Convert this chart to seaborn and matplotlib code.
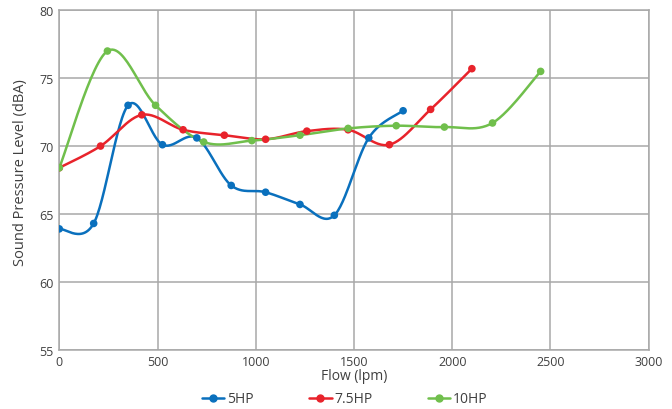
import numpy as np
import pandas as pd
import matplotlib
matplotlib.use('Agg')
import matplotlib.pyplot as plt
import seaborn as sns
from matplotlib.lines import Line2D

# data
flow_5hp = [0, 175, 350, 525, 700, 875, 1050, 1225, 1400, 1575, 1750]
spl_5hp = [63.9, 64.3, 73.0, 70.1, 70.6, 67.1, 66.6, 65.7, 64.9, 70.6, 72.6]

flow_75hp = [0, 210, 420, 630, 840, 1050, 1260, 1470, 1680, 1890, 2100]
spl_75hp = [68.4, 70.0, 72.3, 71.2, 70.8, 70.5, 71.1, 71.2, 70.1, 72.7, 75.7]

flow_10hp = [0, 245, 490, 735, 980, 1225, 1470, 1715, 1960, 2205, 2450]
spl_10hp = [68.4, 77.0, 73.0, 70.3, 70.4, 70.8, 71.3, 71.5, 71.4, 71.7, 75.5]

series = ['5HP', '7.5HP', '10HP']
colors = {'5HP': '#0a70bd', '7.5HP': '#e8232b', '10HP': '#70bf4c'}


def smooth(xs, ys, n=30):
    # excel-like smoothed line (catmull-rom bezier)
    p = np.column_stack([xs, ys]).astype(float)
    p = np.vstack([p[0], p, p[-1]])
    out = []
    t = np.linspace(0, 1, n)[:, None]
    for i in range(1, len(p) - 2):
        p0, p1, p2, p3 = p[i - 1], p[i], p[i + 1], p[i + 2]
        c1 = p1 + (p2 - p0) / 6
        c2 = p2 - (p3 - p1) / 6
        seg = ((1 - t) ** 3) * p1 + 3 * ((1 - t) ** 2) * t * c1 + 3 * (1 - t) * t ** 2 * c2 + t ** 3 * p2
        out.append(seg if i == 1 else seg[1:])
    out = np.vstack(out)
    return out[:, 0], out[:, 1]


pts = pd.concat([
    pd.DataFrame({'Flow': flow_5hp, 'SPL': spl_5hp, 'Motor': '5HP'}),
    pd.DataFrame({'Flow': flow_75hp, 'SPL': spl_75hp, 'Motor': '7.5HP'}),
    pd.DataFrame({'Flow': flow_10hp, 'SPL': spl_10hp, 'Motor': '10HP'}),
])

curves = []
for name in series:
    d = pts[pts['Motor'] == name]
    sx, sy = smooth(d['Flow'].values, d['SPL'].values)
    curves.append(pd.DataFrame({'Flow': sx, 'SPL': sy, 'Motor': name}))
curves = pd.concat(curves)

sns.set_style('white')
plt.rcParams['font.family'] = ['Open Sans', 'DejaVu Sans']

fig = plt.figure(figsize=(6.72, 4.10), dpi=100)
ax = fig.add_axes([59.3 / 672, 1 - 350.7 / 410, (648.7 - 59.3) / 672, (350.7 - 11.3) / 410])

sns.lineplot(data=curves, x='Flow', y='SPL', hue='Motor', palette=colors, sort=False,
             estimator=None, units='Motor', linewidth=1.8, legend=False, ax=ax, zorder=3)
sns.scatterplot(data=pts, x='Flow', y='SPL', hue='Motor', palette=colors, s=30,
                edgecolor='none', legend=False, ax=ax, zorder=4)

ax.set_xlim(0, 3000)
ax.set_ylim(55, 80)
ax.set_xticks(range(0, 3001, 500))
ax.set_yticks(range(55, 81, 5))
ax.grid(True, color='#a8a8a8', linewidth=1.1)
ax.set_axisbelow(True)
for s in ax.spines.values():
    s.set_color('#a8a8a8')
    s.set_linewidth(1.1)
ax.tick_params(axis='both', length=0, labelsize=9, labelcolor='#404040', pad=4)
ax.set_xlabel('Flow (lpm)', fontsize=10, color='#404040', labelpad=0)
ax.set_ylabel('Sound Pressure Level (dBA)', fontsize=10.5, color='#404040')
ax.yaxis.set_label_coords(-0.053, 0.525)

handles = [Line2D([0], [0], color=colors[n], marker='o', markersize=5, linewidth=1.8) for n in series]
fig.legend(handles, series, loc='center', bbox_to_anchor=(345 / 672, 1 - 400 / 410), ncol=3,
           frameon=False, fontsize=10, handlelength=1.6, handletextpad=0.2, columnspacing=4.0,
           labelcolor='#404040')

fig.savefig('out.png', dpi=100)
